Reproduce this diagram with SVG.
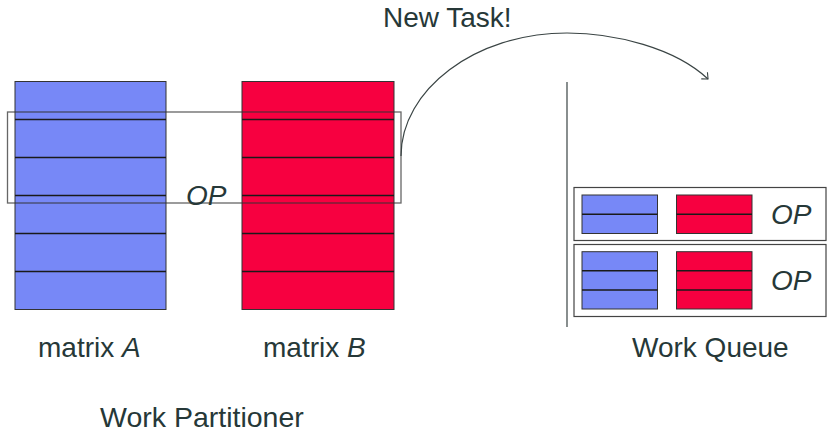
<svg xmlns="http://www.w3.org/2000/svg" width="834" height="435" viewBox="0 0 834 435">
  <style>
    .txt { font-family: "Liberation Sans", Arial, sans-serif; font-size: 28px; fill: #263838; }
    .it { font-style: italic; }
    .blue { fill: #7788f7; stroke: #333; stroke-width: 1; }
    .red { fill: #f70040; stroke: #333; stroke-width: 1; }
    .row { stroke: #1a1a1a; stroke-width: 1.5; }
    .frame { fill: none; stroke: #444; stroke-width: 1.2; }
    .conn { fill: none; stroke: #3a4444; stroke-width: 1.2; }
  </style>
  <defs>
    <marker id="to" viewBox="-6 -6 8 12" markerWidth="8" markerHeight="12" refX="0" refY="0" orient="auto" markerUnits="userSpaceOnUse">
      <path d="M-5,-4.5 Q-1,-1 0,0 Q-1,1 -5,4.5" fill="none" stroke="#3a4444" stroke-width="1.1"/>
    </marker>
  </defs>

  <!-- Work partitioner: matrix A -->
  <g id="matrixA">
    <rect class="blue" x="15" y="81.5" width="151" height="228"/>
    <line class="row" x1="15" y1="119.5" x2="166" y2="119.5"/>
    <line class="row" x1="15" y1="157.5" x2="166" y2="157.5"/>
    <line class="row" x1="15" y1="195.5" x2="166" y2="195.5"/>
    <line class="row" x1="15" y1="233.5" x2="166" y2="233.5"/>
    <line class="row" x1="15" y1="271.5" x2="166" y2="271.5"/>
    <text class="txt" x="38" y="357">matrix <tspan class="it">A</tspan></text>
  </g>

  <!-- Work partitioner: matrix B -->
  <g id="matrixB">
    <rect class="red" x="242" y="81.5" width="152" height="228"/>
    <line class="row" x1="242" y1="119.5" x2="394" y2="119.5"/>
    <line class="row" x1="242" y1="157.5" x2="394" y2="157.5"/>
    <line class="row" x1="242" y1="195.5" x2="394" y2="195.5"/>
    <line class="row" x1="242" y1="233.5" x2="394" y2="233.5"/>
    <line class="row" x1="242" y1="271.5" x2="394" y2="271.5"/>
    <text class="txt" x="263" y="357">matrix <tspan class="it">B</tspan></text>
  </g>

  <!-- Selected row block with its operation -->
  <g id="selection">
    <rect x="7.5" y="112" width="393.5" height="91" fill="none" stroke="#333" stroke-opacity="0.75" stroke-width="1.3"/>
    <text class="txt it" x="186" y="205">OP</text>
  </g>

  <g id="partitionerLabel">
    <text class="txt" x="100" y="427" style="font-size:28.5px">Work Partitioner</text>
  </g>

  <!-- Work queue -->
  <g id="queue">
    <line x1="567" y1="82" x2="567" y2="327" stroke="#3a4444" stroke-width="1.2"/>
    <text class="txt" x="632" y="357">Work Queue</text>
  </g>

  <g id="task1">
    <rect class="frame" x="574" y="187.5" width="252" height="53"/>
    <rect class="blue" x="582" y="195" width="75.5" height="38.5"/>
    <line class="row" x1="582" y1="214.3" x2="657.5" y2="214.3"/>
    <rect class="red" x="676.5" y="195" width="75.5" height="38.5"/>
    <line class="row" x1="676.5" y1="214.3" x2="752" y2="214.3"/>
    <text class="txt it" x="771" y="224">OP</text>
  </g>

  <g id="task2">
    <rect class="frame" x="574" y="244.5" width="252" height="72"/>
    <rect class="blue" x="582" y="251.7" width="75.5" height="57.3"/>
    <line class="row" x1="582" y1="270.8" x2="657.5" y2="270.8"/>
    <line class="row" x1="582" y1="290" x2="657.5" y2="290"/>
    <rect class="red" x="676.5" y="251.7" width="75.5" height="57.3"/>
    <line class="row" x1="676.5" y1="270.8" x2="752" y2="270.8"/>
    <line class="row" x1="676.5" y1="290" x2="752" y2="290"/>
    <text class="txt it" x="771" y="290">OP</text>
  </g>

  <!-- Connector: new task pushed to the queue -->
  <g id="connectors">
    <path class="conn" d="M401,156 C401,90 475,33 567,33 C615,33 675,48 708,79" marker-end="url(#to)"/>
    <text class="txt" x="383" y="27">New Task!</text>
  </g>
</svg>
